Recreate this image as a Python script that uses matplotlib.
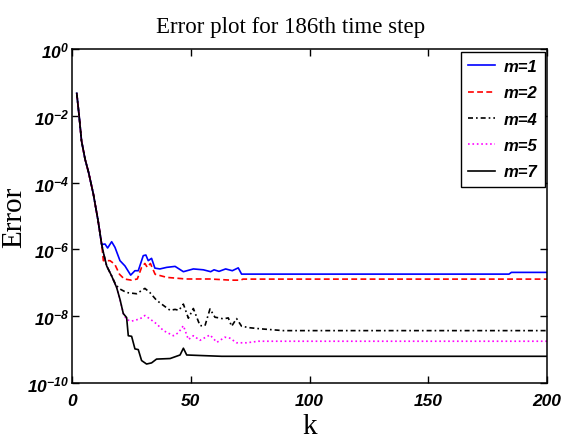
import matplotlib
matplotlib.use("Agg")
import matplotlib.pyplot as plt
from matplotlib.ticker import FixedLocator, NullLocator

# common start shared by all m
k_head = [2, 3, 4, 5.5, 7, 9, 11, 12.5]
err_head = [4.7e-2, 1.0e-2, 1.8e-3, 5.0e-4, 2.0e-4, 4.5e-5, 7.1e-6, 1.4e-6]

# m=1
k_m1 = [13.9, 15, 16.7, 18.1, 20.2, 22.3, 24.7, 26.5, 27.9, 30, 31.1, 32.1, 33.5, 34.9,
        37, 39.9, 43.4, 46.9, 51.1, 55.3, 58.4, 59.8, 61.9, 64.7, 67.5, 70, 71.4, 184, 185, 200]
err_m1 = [1.45e-6, 1.1e-6, 1.7e-6, 1.15e-6, 4.6e-7, 3.2e-7, 1.7e-7, 2.3e-7, 2.3e-7, 6.5e-7,
          6.8e-7, 4.6e-7, 5.4e-7, 2.75e-7, 2.6e-7, 2.9e-7, 3.1e-7, 2.15e-7, 2.6e-7, 2.45e-7,
          2.15e-7, 2.45e-7, 2.2e-7, 2.6e-7, 2.3e-7, 2.8e-7, 1.82e-7, 1.82e-7, 2.05e-7, 2.05e-7]

# m=2
k_m2 = [13.2, 16, 18, 20, 22, 25, 27.5, 29.3, 30.7, 31.7, 33, 35, 40, 48, 58, 67, 71, 72, 200]
err_m2 = [4.6e-7, 4.6e-7, 3.6e-7, 1.8e-7, 1.3e-7, 1.2e-7, 1.3e-7, 2.9e-7, 3.8e-7, 2.9e-7,
          3.8e-7, 1.8e-7, 1.45e-7, 1.3e-7, 1.3e-7, 1.2e-7, 1.2e-7, 1.29e-7, 1.29e-7]

# m=4
k_m4 = [13.2, 14.6, 16.7, 18.5, 20.2, 23, 27.2, 30.7, 32.8, 35.6, 38.5, 41.3, 43.4, 45,
        46.9, 49, 51.1, 53.9, 56, 58.1, 60.2, 62, 63.7, 65.8, 67.2, 69.3, 71.4, 75, 79.2, 89, 200]
err_m4 = [8.1e-7, 3.2e-7, 1.6e-7, 8.5e-8, 6.5e-8, 5.1e-8, 4.7e-8, 6.8e-8, 5.1e-8, 3.0e-8,
          2.1e-8, 1.5e-8, 1.6e-8, 1.5e-8, 2.3e-8, 8.7e-9, 1.7e-8, 5.2e-9, 5.2e-9, 1.65e-8,
          9.3e-9, 8.9e-9, 8.3e-9, 8.9e-9, 5.0e-9, 8.5e-9, 5.0e-9, 4.5e-9, 4.2e-9, 3.7e-9, 3.7e-9]

# m=5
k_m5 = [13.2, 14.6, 16.7, 18.8, 20.2, 21.6, 23, 25, 28.6, 30.7, 32.8, 35.6, 38.5, 42.7,
        44.8, 46.9, 49, 51.1, 53.9, 58.1, 61, 64.4, 66.5, 69.3, 73.5, 78.5, 200]
err_m5 = [8.1e-7, 3.2e-7, 1.6e-7, 7.2e-8, 3.2e-8, 1.2e-8, 7.9e-9, 7.1e-9, 8.3e-9, 1.05e-8,
          8.3e-9, 5.9e-9, 3.7e-9, 2.6e-9, 3.2e-9, 5.2e-9, 2.0e-9, 2.6e-9, 1.9e-9, 2.75e-9,
          1.65e-9, 2.35e-9, 2.2e-9, 1.6e-9, 1.6e-9, 1.78e-9, 1.78e-9]

# m=7
k_m7 = [13.2, 14.6, 16.7, 18.8, 20.2, 21.6, 23, 23.7, 25.1, 26.5, 27.9, 29.3, 31.4, 33.5,
        35.6, 41.3, 45.5, 46.9, 48.3, 55.3, 63, 200]
err_m7 = [8.1e-7, 3.2e-7, 1.6e-7, 7.2e-8, 3.2e-8, 1.2e-8, 9.1e-9, 2.6e-9, 2.5e-9, 1.05e-9,
          1.0e-9, 4.7e-10, 3.7e-10, 4.0e-10, 5.2e-10, 5.4e-10, 6.9e-10, 1.1e-9, 6.9e-10,
          6.6e-10, 6.3e-10, 6.3e-10]

series = [
    ("m=1", k_m1, err_m1, dict(color="blue", linestyle="-")),
    ("m=2", k_m2, err_m2, dict(color="red", dashes=(3.5, 2))),
    ("m=4", k_m4, err_m4, dict(color="black", dashes=(3, 1.8, 1, 1.8))),
    ("m=5", k_m5, err_m5, dict(color="magenta", linestyle=":")),
    ("m=7", k_m7, err_m7, dict(color="black", linestyle="-")),
]

plt.rcParams["font.family"] = ["Liberation Sans", "DejaVu Sans"]
plt.rcParams["font.weight"] = "bold"
plt.rcParams["font.style"] = "italic"

fig = plt.figure(figsize=(5.61, 4.39), dpi=100)
ax = fig.add_axes([72 / 561, 1 - 384 / 439, 475 / 561, 334 / 439])

for name, k, err, style in series:
    ax.plot(k_head + k, err_head + err, lw=1.2, label=name, **style)

ax.set_yscale("log")
ax.set_xlim(0, 200)
ax.set_ylim(1e-10, 1e0)
ax.set_xticks([0, 50, 100, 150, 200])
ax.yaxis.set_major_locator(FixedLocator([1e0, 1e-2, 1e-4, 1e-6, 1e-8, 1e-10]))
ax.yaxis.set_minor_locator(NullLocator())
ax.tick_params(direction="in", top=True, right=True, length=5, width=1, labelsize=12.5)
ax.tick_params(axis="y", pad=2)
ax.tick_params(axis="x", pad=7)
for sp in ax.spines.values():
    sp.set_linewidth(1.1)

serif = dict(family="Liberation Serif", weight="normal", style="normal")
ax.set_title("Error plot for 186th time step", fontdict=dict(size=16.5, **serif), pad=12, x=0.46)
ax.set_xlabel("k", fontdict=dict(size=21, **serif), labelpad=4)
ax.set_ylabel("Error", fontdict=dict(size=21, **serif), labelpad=0)

leg = ax.legend(loc="upper right", fontsize=12, fancybox=False, edgecolor="black",
                framealpha=1, borderaxespad=0.15, handlelength=1.6, handletextpad=0.5,
                labelspacing=0.68, borderpad=0.45)
leg.get_frame().set_linewidth(1.0)

fig.savefig("out.png", dpi=100)
